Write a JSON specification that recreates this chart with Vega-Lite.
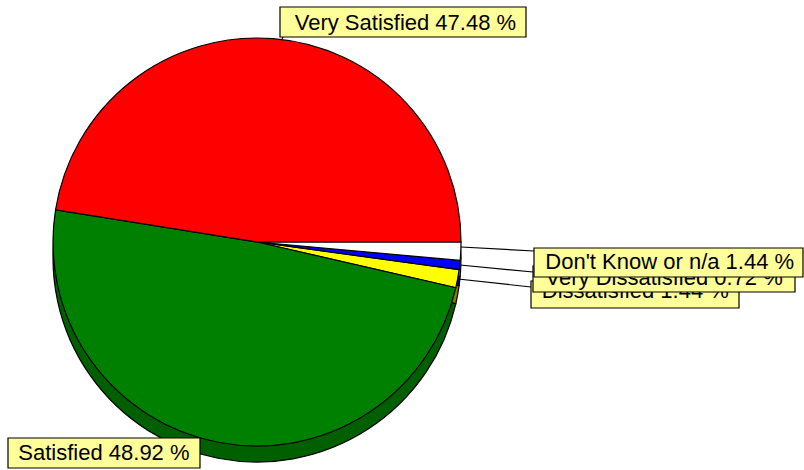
{
  "$schema": "https://vega.github.io/schema/vega-lite/v6.json",
  "width": 514,
  "height": 484,
  "autosize": "none",
  "padding": {"left": 0, "top": 0, "right": 290, "bottom": 0},
  "background": "white",
  "config": {"view": {"stroke": null}},
  "data": {
    "values": [
      {"cat": "Dissatisfied", "v": 1.44, "o": 3, "label": "Dissatisfied 1.44 %"},
      {"cat": "Very Dissatisfied", "v": 0.72, "o": 2, "label": "Very Dissatisfied 0.72 %"},
      {"cat": "Don't Know or n/a", "v": 1.44, "o": 1, "label": "Don't Know  or n/a 1.44 %"},
      {"cat": "Satisfied", "v": 48.92, "o": 4, "label": "Satisfied 48.92 %"},
      {"cat": "Very Satisfied", "v": 47.48, "o": 5, "label": "Very Satisfied 47.48 %"}
    ]
  },
  "layer": [
    {
      "mark": {"type": "arc", "outerRadius": 204, "yOffset": 16, "stroke": "black", "strokeWidth": 1.2},
      "encoding": {
        "theta": {"field": "v", "type": "quantitative", "stack": true, "scale": {"range": [1.5708, 7.854]}},
        "order": {"field": "o", "type": "quantitative"},
        "color": {"field": "cat", "type": "nominal", "legend": null,
          "scale": {"domain": ["Very Satisfied", "Satisfied", "Dissatisfied", "Very Dissatisfied", "Don't Know or n/a"],
                    "range": ["#7f0000", "#006000", "#7f7f00", "#00007f", "#7f7f7f"]}}
      }
    },
    {
      "mark": {"type": "arc", "outerRadius": 204, "stroke": "black", "strokeWidth": 1.2},
      "encoding": {
        "theta": {"field": "v", "type": "quantitative", "stack": true, "scale": {"range": [1.5708, 7.854]}},
        "order": {"field": "o", "type": "quantitative"},
        "fill": {"field": "cat", "type": "nominal", "legend": null,
          "scale": {"domain": ["Very Satisfied", "Satisfied", "Dissatisfied", "Very Dissatisfied", "Don't Know or n/a"],
                    "range": ["#ff0000", "#008000", "#ffff00", "#0000ff", "#ffffff"]}}
      }
    },
    {
      "transform": [{"filter": "datum.cat === 'Dissatisfied'"}],
      "mark": {"type": "point", "filled": true, "opacity": 1, "fill": "#ffff99", "stroke": "black", "strokeWidth": 1.2, "size": 40000,
        "shape": "M2.74,0.39H4.82V0.66H2.74Z M2.01,0.37L2.74,0.45"}
    },
    {
      "mark": {"type": "text", "radius": 288, "dx": 95, "dy": -3, "align": "center", "baseline": "middle", "font": "Liberation Sans", "fontSize": 22, "color": "black"},
      "encoding": {
        "theta": {"field": "v", "type": "quantitative", "stack": true, "scale": {"range": [1.5708, 7.854]}},
        "order": {"field": "o", "type": "quantitative"},
        "text": {"condition": {"test": "datum.cat === 'Dissatisfied'", "field": "label"}, "value": ""}
      }
    },
    {
      "transform": [{"filter": "datum.cat === 'Very Dissatisfied'"}],
      "mark": {"type": "point", "filled": true, "opacity": 1, "fill": "#ffff99", "stroke": "black", "strokeWidth": 1.2, "size": 40000,
        "shape": "M2.76,0.24H5.38V0.50H2.76Z M2.03,0.23L2.76,0.30"}
    },
    {
      "mark": {"type": "text", "radius": 288, "dx": 121, "dy": 3, "align": "center", "baseline": "middle", "font": "Liberation Sans", "fontSize": 22, "color": "black"},
      "encoding": {
        "theta": {"field": "v", "type": "quantitative", "stack": true, "scale": {"range": [1.5708, 7.854]}},
        "order": {"field": "o", "type": "quantitative"},
        "text": {"condition": {"test": "datum.cat === 'Very Dissatisfied'", "field": "label"}, "value": ""}
      }
    },
    {
      "transform": [{"filter": "datum.cat === \"Don't Know or n/a\""}],
      "mark": {"type": "point", "filled": true, "opacity": 1, "fill": "#ffff99", "stroke": "black", "strokeWidth": 1.2, "size": 40000,
        "shape": "M2.77,0.06H5.46V0.35H2.77Z M2.04,0.05L2.77,0.09"}
    },
    {
      "mark": {"type": "text", "radius": 288, "dx": 125, "dy": 7, "align": "center", "baseline": "middle", "font": "Liberation Sans", "fontSize": 22, "color": "black"},
      "encoding": {
        "theta": {"field": "v", "type": "quantitative", "stack": true, "scale": {"range": [1.5708, 7.854]}},
        "order": {"field": "o", "type": "quantitative"},
        "text": {"condition": {"test": "datum.cat === \"Don't Know or n/a\"", "field": "label"}, "value": ""}
      }
    },
    {
      "transform": [{"filter": "datum.cat === 'Very Satisfied'"}],
      "mark": {"type": "point", "filled": true, "opacity": 1, "fill": "#ffff99", "stroke": "black", "strokeWidth": 1.2, "size": 40000,
        "shape": "M0.23,-2.35H2.69V-2.05H0.23Z M0.26,-2.05L0.25,-2.03"}
    },
    {
      "mark": {"type": "text", "radius": 220, "dx": 131, "dy": 0, "align": "center", "baseline": "middle", "font": "Liberation Sans", "fontSize": 22, "color": "black"},
      "encoding": {
        "theta": {"field": "v", "type": "quantitative", "stack": true, "scale": {"range": [1.5708, 7.854]}},
        "order": {"field": "o", "type": "quantitative"},
        "text": {"condition": {"test": "datum.cat === 'Very Satisfied'", "field": "label"}, "value": ""}
      }
    },
    {
      "transform": [{"filter": "datum.cat === 'Satisfied'"}],
      "mark": {"type": "point", "filled": true, "opacity": 1, "fill": "#ffff99", "stroke": "black", "strokeWidth": 1.2, "size": 40000,
        "shape": "M-2.49,1.96H-0.57V2.26H-2.49Z"}
    },
    {
      "mark": {"type": "text", "radius": 215, "dx": -112, "dy": 0, "align": "center", "baseline": "middle", "font": "Liberation Sans", "fontSize": 22, "color": "black"},
      "encoding": {
        "theta": {"field": "v", "type": "quantitative", "stack": true, "scale": {"range": [1.5708, 7.854]}},
        "order": {"field": "o", "type": "quantitative"},
        "text": {"condition": {"test": "datum.cat === 'Satisfied'", "field": "label"}, "value": ""}
      }
    }
  ],
  "resolve": {"scale": {"color": "independent", "fill": "independent"}}
}
